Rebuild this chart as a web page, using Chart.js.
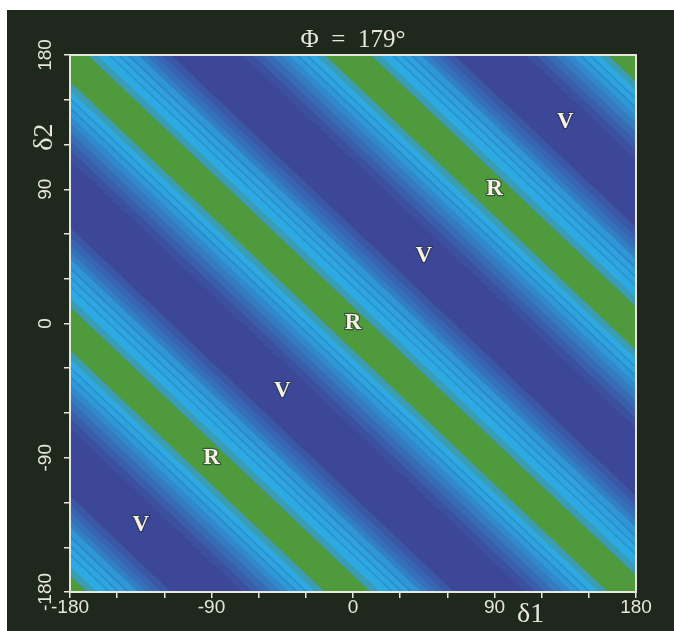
<!DOCTYPE html>
<html>
<head>
<meta charset="utf-8">
<script src="https://cdn.jsdelivr.net/npm/chart.js@4.4.1/dist/chart.umd.min.js"></script>
<style>
  html, body { margin: 0; padding: 0; background: #ffffff; }
  #wrap { width: 674px; height: 631px; }
</style>
</head>
<body>
<div id="wrap"><canvas id="mapa" width="674" height="631"></canvas></div>
<script>
// Ridges of the map: lines where d1 + d2 equals one of these sums
const ridgeSums = [-360, -180, 0, 180, 360];

// Contour edges, as offsets of d1 + d2 from a ridge, and the fill between each pair
const bandEdges = [-70, -64, -58, -52, -46, -41, -36.5, -35, -30.5, -29, -24, -18,
                   11, 17, 24, 25.5, 30, 31.5, 36, 37.5, 43, 48, 53, 58, 64];
const bandColors = ['#3b519f', '#3a5ea9', '#376cb4', '#347bc0', '#3188cb', '#2f98d6', '#2d88cb',
                    '#2ea4de', '#2c90ce', '#2ea9e2', '#3a9db4', '#4e9a3c', '#3a9db4',
                    '#2eaae3', '#2c92cf', '#2da7e0', '#2d8ccc', '#2ea2dc', '#3084c6', '#2f97d5',
                    '#327fc4', '#3571ba', '#3865b1', '#3a58a6'];
const fondoMapa = '#3c4897';

// Labels placed on the map
const marcaTexto = ['V', 'R', 'V', 'R', 'V', 'R', 'V'];
const marcaD1 = [-135, -90, -45, 0, 45, 90, 135];
const marcaD2 = [-135, -90, -45, 0, 45, 90, 135];

// Axis ticks
const ejeMin = -180;
const ejeMax = 180;
const pasoTick = 30;
const ticksRotulados = [-180, -90, 0, 90, 180];

const titulo = 'Φ  =  179°';
const tituloX = 'δ1';
const tituloY = 'δ2';

const claro = '#e6e6dc';
const oscuro = '#1f281d';

// One closed parallelogram per contour band, running across the whole square
function bandaPoligono(s0, s1) {
    const a = 400;
    return [
        { x: -a, y: s0 + a },
        { x: a, y: s0 - a },
        { x: a, y: s1 - a },
        { x: -a, y: s1 + a }
    ];
}

const datasets = [];
ridgeSums.forEach(function (c) {
    for (let i = 0; i < bandColors.length; i++) {
        datasets.push({
            data: bandaPoligono(c + bandEdges[i] - 0.3, c + bandEdges[i + 1] + 0.3),
            backgroundColor: bandColors[i],
            borderWidth: 0,
            pointRadius: 0,
            fill: 'shape',
            tension: 0
        });
    }
});

// Page background, dark panel and the navy plot floor
const fondo = {
    id: 'fondo',
    beforeDraw(chart) {
        const ctx = chart.ctx;
        ctx.save();
        ctx.fillStyle = '#ffffff';
        ctx.fillRect(0, 0, chart.width, chart.height);
        ctx.fillStyle = oscuro;
        ctx.fillRect(7, 10, chart.width - 7, chart.height - 10);
        const a = chart.chartArea;
        ctx.fillStyle = fondoMapa;
        ctx.fillRect(a.left, a.top, a.right - a.left, a.bottom - a.top);
        ctx.restore();
    }
};

// Frame, tick labels, titles and the V / R marks
const textos = {
    id: 'textos',
    afterDraw(chart) {
        const ctx = chart.ctx;
        const a = chart.chartArea;
        const sx = chart.scales.x;
        const sy = chart.scales.y;
        ctx.save();

        ctx.strokeStyle = claro;
        ctx.lineWidth = 2;
        ctx.strokeRect(a.left, a.top, a.right - a.left, a.bottom - a.top);

        ctx.fillStyle = claro;
        ctx.font = '19px "Liberation Sans", sans-serif';
        ctx.textAlign = 'center';
        ctx.textBaseline = 'middle';
        ticksRotulados.forEach(function (v) {
            ctx.fillText(String(v), sx.getPixelForValue(v), a.bottom + 16);
        });
        ticksRotulados.forEach(function (v) {
            ctx.save();
            ctx.translate(a.left - 24, sy.getPixelForValue(v));
            ctx.rotate(-Math.PI / 2);
            ctx.fillText(String(v), 0, 0);
            ctx.restore();
        });

        ctx.font = '25px "Liberation Serif", serif';
        ctx.textBaseline = 'alphabetic';
        ctx.fillText(titulo, (a.left + a.right) / 2, a.top - 8);

        ctx.font = '28px "Liberation Serif", serif';
        ctx.fillText(tituloX, sx.getPixelForValue(113), a.bottom + 30);
        ctx.save();
        ctx.translate(a.left - 18, sy.getPixelForValue(125));
        ctx.rotate(-Math.PI / 2);
        ctx.fillText(tituloY, 0, 0);
        ctx.restore();

        ctx.font = 'bold 23px "Liberation Serif", serif';
        ctx.textBaseline = 'middle';
        ctx.lineJoin = 'round';
        marcaTexto.forEach(function (t, i) {
            const px = sx.getPixelForValue(marcaD1[i]);
            const py = sy.getPixelForValue(marcaD2[i]);
            ctx.lineWidth = 2.5;
            ctx.strokeStyle = 'rgba(40,45,60,0.6)';
            ctx.strokeText(t, px, py);
            ctx.fillStyle = '#f6f2e2';
            ctx.fillText(t, px, py);
        });

        ctx.restore();
    }
};

const ejeComun = {
    type: 'linear',
    min: ejeMin,
    max: ejeMax,
    ticks: { stepSize: pasoTick, display: false },
    grid: { drawOnChartArea: false, drawTicks: true, tickLength: 6, color: claro, lineWidth: 1.5 },
    border: { display: true, color: claro, width: 2 }
};

new Chart(document.getElementById('mapa'), {
    type: 'line',
    data: { datasets: datasets },
    options: {
        responsive: false,
        animation: false,
        devicePixelRatio: 1,
        layout: { padding: { left: 64, right: 38, top: 55, bottom: 33 } },
        scales: {
            x: Object.assign({}, ejeComun),
            y: Object.assign({}, ejeComun)
        },
        plugins: {
            legend: { display: false },
            tooltip: { enabled: false }
        }
    },
    plugins: [fondo, textos]
});
</script>
</body>
</html>
